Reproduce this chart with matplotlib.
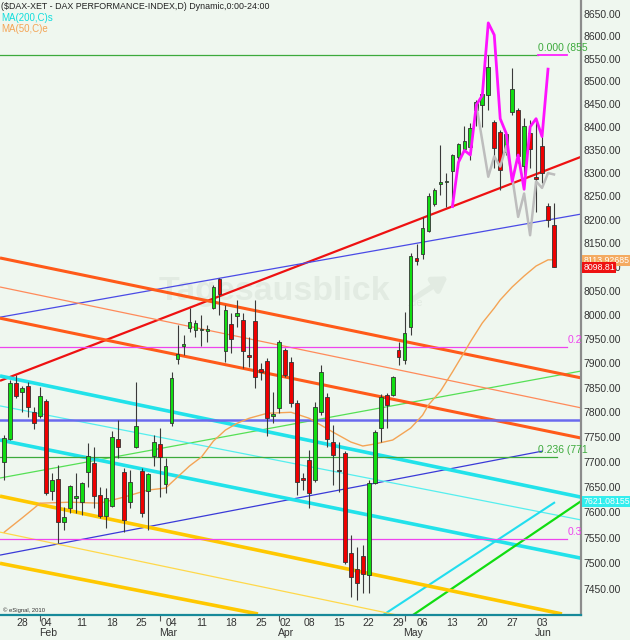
import numpy as np
import matplotlib
matplotlib.use("Agg")
import matplotlib.pyplot as plt
import matplotlib.transforms as mtransforms
from matplotlib.ticker import FixedLocator, NullLocator, NullFormatter

plt.rcParams["font.family"] = ["Liberation Sans", "DejaVu Sans"]

# DAX daily candles, 23 Jan - 05 Jun (one entry per trading day)
opens = [7700, 7746, 7859, 7841, 7853, 7800, 7792, 7823, 7642, 7666, 7581, 7608, 7628, 7620, 7680, 7698,
         7634, 7593, 7612, 7746, 7680, 7620, 7730, 7682, 7642, 7712, 7736, 7656, 7778, 7909, 7935, 7973,
         7968, 7968, 7966, 8014, 8075, 7925, 7981, 7997, 7989, 7917, 7987, 7888, 7904, 7792, 7809, 7927,
         7902, 7819, 7668, 7704, 7664, 7800, 7831, 7740, 7684, 7718, 7520, 7489, 7514, 7477, 7658, 7768,
         7835, 7835, 7927, 7907, 7975, 8119, 8127, 8176, 8233, 8276, 8281, 8304, 8335, 8352, 8356, 8437,
         8448, 8470, 8411, 8389, 8345, 8433, 8437, 8315, 8387, 8291, 8358, 8229, 8189]
closes = [7748, 7859, 7833, 7849, 7811, 7778, 7833, 7638, 7664, 7581, 7591, 7652, 7632, 7658, 7712, 7632,
          7593, 7628, 7750, 7730, 7585, 7660, 7772, 7598, 7676, 7740, 7710, 7692, 7870, 7919, 7939, 7985,
          7983, 7970, 7970, 8058, 8043, 8010, 7950, 8004, 7925, 7913, 7872, 7882, 7788, 7796, 7944, 7876,
          7819, 7660, 7664, 7638, 7811, 7882, 7746, 7714, 7682, 7502, 7473, 7462, 7479, 7658, 7760, 7831,
          7815, 7872, 7913, 7962, 8123, 8112, 8182, 8251, 8263, 8281, 8283, 8339, 8363, 8369, 8398, 8455,
          8472, 8532, 8354, 8307, 8385, 8483, 8337, 8402, 8352, 8287, 8300, 8199, 8100]
highs = [7754, 7866, 7876, 7853, 7861, 7811, 7851, 7827, 7678, 7694, 7610, 7654, 7678, 7660, 7738, 7730,
         7650, 7648, 7762, 7784, 7688, 7684, 7861, 7688, 7678, 7754, 7768, 7708, 7882, 7979, 7958, 8014,
         7989, 7999, 7979, 8062, 8077, 8020, 8004, 8031, 8004, 7954, 8031, 7900, 7911, 7841, 7948, 7931,
         7913, 7825, 7678, 7724, 7821, 7896, 7839, 7774, 7740, 7722, 7555, 7532, 7536, 7664, 7764, 7837,
         7839, 7874, 7944, 8006, 8129, 8148, 8206, 8257, 8268, 8361, 8300, 8341, 8365, 8402, 8409, 8459,
         8474, 8558, 8415, 8393, 8389, 8530, 8441, 8419, 8415, 8419, 8380, 8236, 8236]
lows = [7664, 7744, 7829, 7800, 7790, 7766, 7788, 7634, 7624, 7540, 7565, 7598, 7598, 7595, 7650, 7608,
        7589, 7569, 7610, 7708, 7561, 7608, 7728, 7591, 7565, 7692, 7630, 7638, 7772, 7898, 7917, 7964,
        7954, 7935, 7944, 8012, 7999, 7902, 7921, 7975, 7890, 7892, 7849, 7866, 7752, 7778, 7798, 7872,
        7811, 7634, 7644, 7608, 7660, 7794, 7730, 7654, 7640, 7498, 7434, 7429, 7442, 7442, 7656, 7740,
        7768, 7833, 7896, 7898, 7958, 8104, 8117, 8174, 8229, 8253, 8227, 8227, 8311, 8350, 8328, 8402,
        8400, 8437, 8311, 8263, 8339, 8426, 8322, 8296, 8311, 8216, 8279, 8184, 8100]

# MA(50) read at some candles
ma50_idx = [0, 3, 6, 11, 16, 20, 24, 27, 29, 31, 33, 35, 37, 39, 41, 44, 48, 51, 55, 58, 60, 62, 65,
            68, 70, 71, 73, 75, 77, 78, 80, 82, 83, 85, 87, 89, 91, 92]
ma50 = [7561, 7589, 7618, 7620, 7618, 7630, 7644, 7648, 7670, 7692, 7710, 7742, 7764, 7778, 7788, 7798,
        7800, 7788, 7760, 7740, 7732, 7736, 7744, 7768, 7794, 7815, 7843, 7882, 7923, 7944, 7983, 8014,
        8031, 8058, 8081, 8102, 8115, 8115]

# Muster-Projektionen (magenta / grau)
proj_idx = list(range(75, 92))
proj = [8228, 8323, 8349, 8339, 8448, 8469, 8630, 8603, 8418, 8386, 8282, 8339, 8265, 8400, 8418, 8379, 8527]
gray_idx = [79, 81, 82, 83, 84, 85, 86, 87, 88, 89, 90, 91, 92]
gray = [8448, 8292, 8336, 8314, 8358, 8292, 8206, 8256, 8167, 8282, 8268, 8300, 8297]

# Trendlinien: Start (Index, Kurs) -> Ende (Index, Kurs)
trend_x0 = [-0.72, -0.72, -0.72, -0.72, -0.72, -0.72, -0.72, -0.72, -0.72, -0.72, 63.4, 68.4, -0.72, -0.72, -0.72]
trend_p0 = [7864, 7995, 7516, 7668, 8119, 8058, 7993, 7874, 7813, 7744, 7400, 7400, 7632, 7500, 7561]
trend_x1 = [96.52, 96.52, 90.16, 96.52, 96.52, 96.52, 96.52, 96.52, 96.52, 96.52, 92.17, 96.52, 93.34, 42.46, 65.72]
trend_p1 = [8335, 8212, 7722, 7884, 7870, 7809, 7748, 7630, 7585, 7510, 7620, 7622, 7402, 7402, 7400]
trend_color = ["#ee1111", "#4a4ae6", "#3a3ad8", "#55e055", "#ff5a1a", "#ff8a5a", "#ff5a1a", "#22e2ea",
               "#55eeee", "#22e2ea", "#22ddee", "#11dd11", "#ffc800", "#ffc800", "#ffd84a"]
trend_lw = [1.6, 0.9, 0.9, 0.9, 2.2, 0.9, 2.2, 2.6, 0.9, 2.6, 1.5, 1.6, 2.6, 2.6, 0.9]

# Horizontale Niveaus (Fibonacci u.a.)
level_price = [8558, 8558, 7933, 7784, 7710, 7547]
level_x1 = [89.3, 94.2, 94.2, 96.52, 92.5, 94.2]
level_x0 = [-0.72, 89.3, -0.72, -0.72, -0.72, -0.72]
level_color = ["#3caa3c", "#ff22ff", "#ee44ee", "#6a6aee", "#3caa3c", "#ee44ee"]
level_lw = [0.9, 1.3, 0.9, 1.8, 0.9, 0.9]
level_text = ["0.000 (855", None, "0.2", None, "0.236 (771", "0.3"]
level_text_x = [89.3, None, 94.3, None, 89.3, 94.3]

day_idx = [3, 7, 13, 18, 23, 28, 33, 38, 43, 47, 51, 56, 61, 66, 70, 75, 80, 85, 90]
day_lbl = ["28", "04", "11", "18", "25", "04", "11", "18", "25", "02", "08", "15", "22", "29", "06",
           "13", "20", "27", "03"]
month_idx = [7.3, 27.4, 47.1, 68.4, 90.2]
month_lbl = ["Feb", "Mar", "Apr", "May", "Jun"]
month_start = [6, 26, 46, 67]

yticks = np.arange(7450, 8651, 50)
bg = "#eff7ef"

fig = plt.figure(figsize=(6.3, 6.4), dpi=100, facecolor=bg)
ax = fig.add_axes([0, 25 / 640, 581 / 630, 615 / 640], facecolor=bg)
ax.set_yscale("log")
ax.set_xlim(-0.72, 96.52)
ax.set_ylim(7400, 8681.5)

# Wasserzeichen
ax.text(0.472, 0.512, "Tagesausblick", transform=ax.transAxes, ha="center", va="baseline",
        fontsize=24.5, fontweight="bold", color="#e2ebe2", zorder=0)
ax.text(0.700, 0.503, ".de", transform=ax.transAxes, ha="left", va="baseline",
        fontsize=8, color="#e2ebe2", zorder=0)
ax.annotate("", xy=(0.775, 0.553), xytext=(0.705, 0.51), xycoords="axes fraction",
            arrowprops=dict(arrowstyle="-|>,head_width=0.5,head_length=0.8", color="#e2ebe2", lw=4),
            zorder=0)

for x0, p0, x1, p1, c, lw in zip(trend_x0, trend_p0, trend_x1, trend_p1, trend_color, trend_lw):
    ax.plot([x0, x1], [p0, p1], color=c, lw=lw, solid_capstyle="butt", zorder=2)

for p, x0, x1, c, lw, t, tx in zip(level_price, level_x0, level_x1, level_color, level_lw,
                                   level_text, level_text_x):
    ax.plot([x0, x1], [p, p], color=c, lw=lw, zorder=2)
    if t:
        ax.text(tx, p * 1.0005, t, color=c, fontsize=7.5, ha="left", va="bottom", zorder=5)

ax.plot(ma50_idx, ma50, color="#f4a455", lw=1.0, zorder=2.5)

# Kerzen
x = np.arange(len(opens))
o = np.array(opens, float)
c = np.array(closes, float)
ax.vlines(x, lows, highs, color="#3a3a3a", lw=0.8, zorder=3)
ax.bar(x, c - o, bottom=o, width=0.62, color=np.where(c >= o, "#11dd11", "#ee0000"),
       edgecolor="#333333", lw=0.6, zorder=4)

ax.plot(gray_idx, gray, color="#bdbdbd", lw=1.8, zorder=4.5)
ax.plot(proj_idx, proj, color="#ff11ff", lw=2.0, zorder=5)

# Achsen
ax.yaxis.tick_right()
ax.yaxis.set_major_locator(FixedLocator(yticks))
ax.set_yticklabels([f"{v:.2f}" for v in yticks])
ax.yaxis.set_minor_locator(NullLocator())
ax.yaxis.set_minor_formatter(NullFormatter())
ax.tick_params(axis="y", length=0, pad=2, labelsize=7.5, labelcolor="#333333")

ax.set_xticks(day_idx)
ax.set_xticklabels(day_lbl)
ax.set_xticks(month_start, minor=True)
ax.tick_params(axis="x", which="major", length=0, pad=2, labelsize=7.5, labelcolor="#333333")
ax.tick_params(axis="x", which="minor", length=4, width=0.8, color="#555555")
trans = mtransforms.blended_transform_factory(ax.transData, ax.transAxes)
for mi, ml in zip(month_idx, month_lbl):
    ax.text(mi, -0.0285, ml, transform=trans, ha="center", va="center", fontsize=7.5, color="#333333",
            clip_on=False)

for s in ["top", "left"]:
    ax.spines[s].set_visible(False)
ax.spines["right"].set_color("#8c8c8c")
ax.spines["right"].set_linewidth(1.6)
ax.spines["bottom"].set_color("#178a9a")
ax.spines["bottom"].set_linewidth(1.6)

# Kursmarken rechts
ytr = mtransforms.blended_transform_factory(ax.transAxes, ax.transData)
for val, txt, fc in [(8113.93, "8113.92685", "#f4aa60"), (8098.81, "8098.81", "#ee1111"),
                     (7621.08, "7621.08155", "#33eeee")]:
    ax.text(1.004, val, txt, transform=ytr, ha="left", va="center", fontsize=6.3, color="white",
            bbox=dict(boxstyle="square,pad=0.12", fc=fc, ec="none"), clip_on=False, zorder=6)

# Kopfzeilen
ax.text(0.002, 0.9895, "($DAX-XET - DAX PERFORMANCE-INDEX,D) Dynamic,0:00-24:00", transform=ax.transAxes,
        ha="left", va="center", fontsize=6.4, color="#222222")
ax.text(0.002, 0.9715, "MA(200,C)s", transform=ax.transAxes, ha="left", va="center", fontsize=7.0,
        color="#11dddd")
ax.text(0.002, 0.9535, "MA(50,C)e", transform=ax.transAxes, ha="left", va="center", fontsize=7.0,
        color="#f4a455")
ax.text(0.005, 0.0085, "\u00a9 eSignal, 2010", transform=ax.transAxes, ha="left", va="center",
        fontsize=4.2, color="#333333")

fig.savefig("out.png", dpi=100, facecolor=bg)
